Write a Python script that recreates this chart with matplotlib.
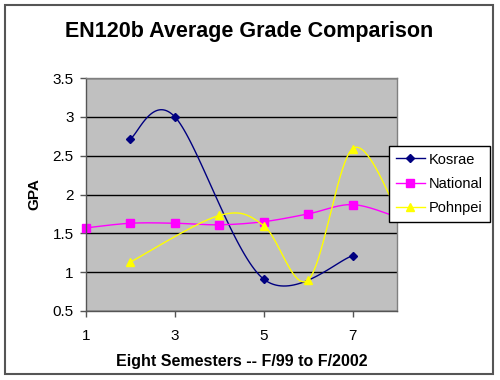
import numpy as np
import matplotlib
matplotlib.use('Agg')
import matplotlib.pyplot as plt
from matplotlib.patches import Rectangle
from matplotlib.lines import Line2D

plt.rcParams['font.family'] = ['Liberation Sans', 'DejaVu Sans']

semesters = [1, 2, 3, 4, 5, 6, 7, 8]
kosrae = [np.nan, 2.72, 3.00, np.nan, 0.91, np.nan, 1.21, np.nan]
national = [1.57, 1.63, 1.63, 1.61, 1.65, 1.75, 1.87, 1.71]
pohnpei = [np.nan, 1.13, np.nan, 1.73, 1.60, 0.90, 2.59, 1.80]
x_ticks = [1, 3, 5, 7]
y_ticks = [0.5, 1, 1.5, 2, 2.5, 3, 3.5]


def smooth(xs, ys, sx=44.4, sy=77.6, n=40):
    # excel-like smoothed line: catmull-rom in screen-ish space
    xs = np.asarray(xs, float)
    ys = np.asarray(ys, float)
    ok = ~np.isnan(ys)
    px = xs[ok] * sx
    py = ys[ok] * sy
    P = np.column_stack([px, py])
    P = np.vstack([P[0], P, P[-1]])
    out = []
    for i in range(1, len(P) - 2):
        p0, p1, p2, p3 = P[i - 1], P[i], P[i + 1], P[i + 2]
        m1 = (p2 - p0) / 2
        m2 = (p3 - p1) / 2
        t = np.linspace(0, 1, n)[:, None]
        h00 = 2 * t**3 - 3 * t**2 + 1
        h10 = t**3 - 2 * t**2 + t
        h01 = -2 * t**3 + 3 * t**2
        h11 = t**3 - t**2
        out.append(h00 * p1 + h10 * m1 + h01 * p2 + h11 * m2)
    out = np.vstack(out)
    return out[:, 0] / sx, out[:, 1] / sy


fig = plt.figure(figsize=(5, 3.8), dpi=100)
fig.patches.append(Rectangle((5 / 500, 1 - 374 / 380), 488 / 500, 369 / 380,
                             transform=fig.transFigure, fill=False,
                             edgecolor='#555555', linewidth=1.5))

ax = fig.add_axes([86 / 500, 1 - 311 / 380, 311 / 500, 233 / 380])
ax.set_facecolor('#C0C0C0')
ax.set_xlim(1, 8)
ax.set_ylim(0.5, 3.5)
ax.set_xticks(x_ticks)
ax.set_yticks(y_ticks)
ax.set_yticklabels(['0.5', '1', '1.5', '2', '2.5', '3', '3.5'])
ax.grid(axis='y', color='black', linewidth=1)
ax.set_axisbelow(True)
for s in ['top', 'right']:
    ax.spines[s].set_color('#808080')
    ax.spines[s].set_linewidth(1)
for s in ['left', 'bottom']:
    ax.spines[s].set_color('#555555')
    ax.spines[s].set_linewidth(1)
ax.tick_params(direction='out', length=4, width=1, color='#555555',
               labelsize=11)
ax.tick_params(axis='x', pad=9)
ax.tick_params(axis='y', pad=5)

series = [
    ('Kosrae', kosrae, '#000080', 'D', 4),
    ('National', national, '#FF00FF', 's', 5.5),
    ('Pohnpei', pohnpei, '#FFFF00', '^', 6),
]
handles = []
for name, vals, col, mk, ms in series:
    sx, sy = smooth(semesters, vals)
    ax.plot(sx, sy, color=col, linewidth=1, clip_on=True)
    ax.plot(semesters, vals, linestyle='none', marker=mk, markersize=ms,
            color=col, markeredgecolor=col, clip_on=False)
    handles.append(Line2D([0], [0], color=col, linewidth=1, marker=mk,
                          markersize=ms, markeredgecolor=col, label=name))

fig.text(0.498, 1 - 32 / 380, 'EN120b Average Grade Comparison',
         ha='center', va='center', fontsize=15.5, fontweight='bold')
ax.set_xlabel('Eight Semesters -- F/99 to F/2002', fontsize=11.5,
              fontweight='bold', labelpad=8)
ax.set_ylabel('GPA', fontsize=11, fontweight='bold', labelpad=8)

leg = fig.legend(handles=handles, loc='upper left',
                 bbox_to_anchor=(389 / 500, 1 - 146 / 380), borderaxespad=0,
                 fontsize=10.5, frameon=True, fancybox=False, handlelength=2.0,
                 handletextpad=0.3, labelspacing=0.7, borderpad=0.45)
leg.get_frame().set_edgecolor('black')
leg.get_frame().set_linewidth(1)
leg.get_frame().set_facecolor('white')
leg.get_frame().set_alpha(1)
leg.set_zorder(10)

fig.savefig('out.png', dpi=100)
